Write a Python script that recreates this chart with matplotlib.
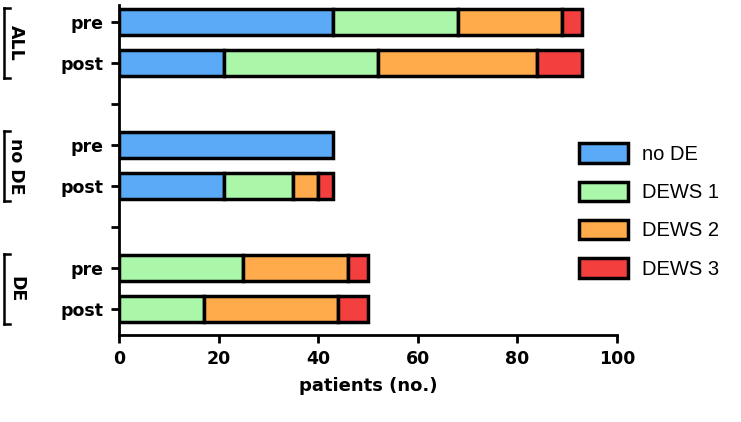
import numpy as np
import matplotlib.pyplot as plt
from matplotlib.patches import Patch

# data, rows top to bottom (empty rows separate the groups)
rows = ['pre', 'post', '', 'pre', 'post', '', 'pre', 'post']
no_de = [43, 21, 0, 43, 21, 0, 0, 0]
dews1 = [25, 31, 0, 0, 14, 0, 25, 17]
dews2 = [21, 32, 0, 0, 5, 0, 21, 27]
dews3 = [4, 9, 0, 0, 3, 0, 4, 6]
series = ['no DE', 'DEWS 1', 'DEWS 2', 'DEWS 3']
groups = ['ALL', 'no DE', 'DE']
group_rows = [(0, 1), (3, 4), (6, 7)]
colors = ['#5aaaf7', '#aaf7aa', '#ffab4c', '#f43f3f']

fig = plt.figure(figsize=(7.41, 4.22), dpi=100)
ax = fig.add_axes([0.1606, 0.206, 0.672, 0.782])

y = np.arange(len(rows))
left = np.zeros(len(rows))
for vals, col in zip([no_de, dews1, dews2, dews3], colors):
    vals = np.array(vals, dtype=float)
    mask = vals > 0
    ax.barh(y[mask], vals[mask], left=left[mask], height=0.63, color=col,
            edgecolor='black', linewidth=2.5, zorder=3)
    left += vals

ax.set_xlim(0, 100)
ax.set_ylim(7.63, -0.42)
ax.set_xticks([0, 20, 40, 60, 80, 100])
ax.set_yticks(y)
ax.set_yticklabels(rows)
for sp in ['top', 'right']:
    ax.spines[sp].set_visible(False)
for sp in ['left', 'bottom']:
    ax.spines[sp].set_linewidth(2)
ax.tick_params(axis='both', width=2, length=6, labelsize=12.5, pad=5)
for lab in ax.get_xticklabels() + ax.get_yticklabels():
    lab.set_fontweight('bold')
ax.set_xlabel('patients (no.)', fontsize=13, fontweight='bold', labelpad=6)

# group brackets on the left
for name, (r0, r1) in zip(groups, group_rows):
    top = r0 - 0.35
    bot = r1 + 0.35
    ax.plot([-23.1, -23.1], [top, bot], color='black', lw=1.8, clip_on=False)
    ax.plot([-23.1, -21.9], [top, top], color='black', lw=1.8, clip_on=False)
    ax.plot([-23.1, -21.9], [bot, bot], color='black', lw=1.8, clip_on=False)
    ax.text(-20.7, (r0 + r1) / 2, name, rotation=-90, ha='center', va='center',
            fontsize=12.5, fontweight='bold')

handles = [Patch(facecolor=c, edgecolor='black', linewidth=2.5) for c in colors]
fig.legend(handles, series, loc='upper left', bbox_to_anchor=(0.782, 0.66),
           frameon=False, borderpad=0, borderaxespad=0,
           prop={'family': 'Liberation Sans', 'size': 14.5},
           handlelength=2.4, handleheight=1.1,
           labelspacing=0.88, handletextpad=0.7)

fig.savefig('out.png', dpi=100)
